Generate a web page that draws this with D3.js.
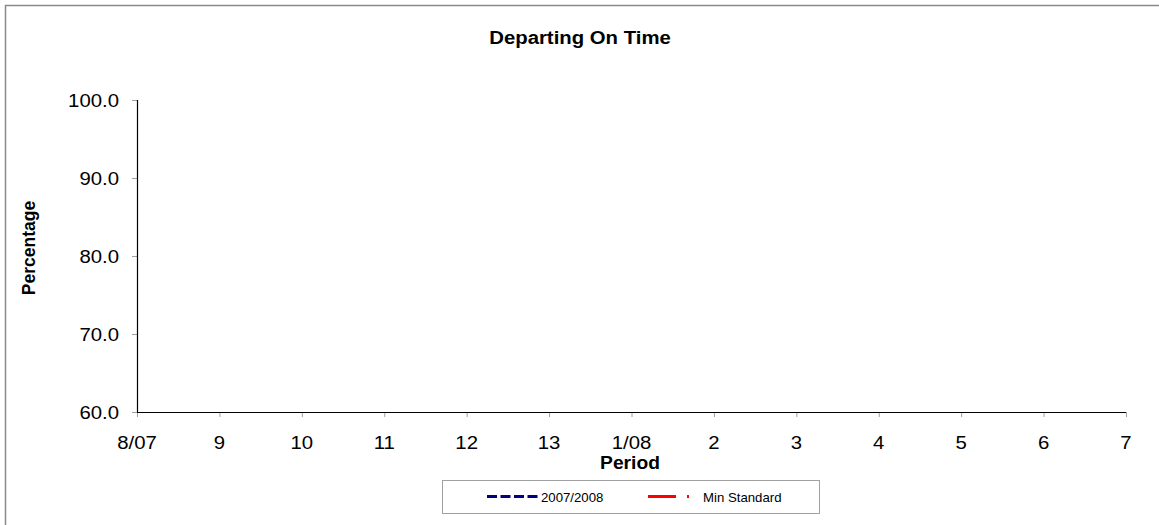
<!DOCTYPE html>
<html>
<head>
<meta charset="utf-8">
<script src="https://cdn.jsdelivr.net/npm/d3@7"></script>
<style>
  html, body { margin: 0; padding: 0; background: #fff; }
  svg { display: block; }
  text { font-family: Arial, "Liberation Sans", sans-serif; fill: #000; }
</style>
</head>
<body>
<svg id="chart" width="1159" height="525"></svg>
<script>
// Period labels along the x axis
const periods = ["8/07", "9", "10", "11", "12", "13", "1/08", "2", "3", "4", "5", "6", "7"];
// Departing-on-time percentages per period (no figures reported yet)
const season2007 = [null, null, null, null, null, null, null, null, null, null, null, null, null];
const minStandard = [null, null, null, null, null, null, null, null, null, null, null, null, null];
// Y axis ticks
const yTicks = [60, 70, 80, 90, 100];
const seriesNames = ["2007/2008", "Min Standard"];

const SX = 1.1; // horizontal glyph stretch
const svg = d3.select("#chart");

// outer frame
svg.append("rect")
  .attr("x", 5.5).attr("y", 5.5)
  .attr("width", 1300).attr("height", 700)
  .attr("fill", "none").attr("stroke", "#8a8a8a").attr("stroke-width", 1.5);

const plot = { left: 137, right: 1126, top: 100, bottom: 412 };

const x = d3.scalePoint().domain(periods).range([plot.left, plot.right]);
const y = d3.scaleLinear().domain([60, 100]).range([plot.bottom, plot.top]);

// stretched text helper
function label(g, txt, px, py, opts) {
  const t = g.append("text")
    .attr("transform", `translate(${px},${py}) scale(${opts.sx || SX},1)`)
    .attr("font-size", opts.size)
    .attr("text-anchor", opts.anchor || "middle")
    .text(txt);
  if (opts.bold) t.attr("font-weight", "bold");
  return t;
}

// title
label(svg, "Departing On Time", 580, 44, { size: 18.5, bold: true });

// y axis
const yAxis = svg.append("g").attr("transform", `translate(${plot.left},0)`)
  .call(d3.axisLeft(y).tickValues(yTicks).tickSize(5).tickFormat(""));
yAxis.select(".domain").remove();
yAxis.selectAll(".tick line").attr("stroke", "#a0a0a0");
yTicks.forEach(v => label(svg, d3.format(".1f")(v), 119, y(v) + 6.5, { size: 18.5, anchor: "end" }));
svg.append("line")
  .attr("x1", plot.left + 0.5).attr("x2", plot.left + 0.5)
  .attr("y1", plot.top).attr("y2", plot.bottom)
  .attr("stroke", "#000").attr("stroke-width", 1.2);

// x axis
const xAxis = svg.append("g").attr("transform", `translate(0,${plot.bottom})`)
  .call(d3.axisBottom(x).tickSize(5).tickFormat(""));
xAxis.select(".domain").remove();
xAxis.selectAll(".tick line").attr("stroke", "#a0a0a0");
periods.forEach(p => label(svg, p, x(p), 449, { size: 18.5 }));
svg.append("line")
  .attr("x1", plot.left).attr("x2", plot.right)
  .attr("y1", plot.bottom + 0.5).attr("y2", plot.bottom + 0.5)
  .attr("stroke", "#000").attr("stroke-width", 1.2);

// axis titles
label(svg, "Period", 630, 469, { size: 17.5, bold: true });
svg.append("text")
  .attr("transform", `translate(35,248) rotate(-90)`)
  .attr("font-size", 17.5).attr("font-weight", "bold")
  .attr("text-anchor", "middle")
  .text("Percentage");

// series lines
const line = d3.line()
  .defined(d => d != null)
  .x((d, i) => x(periods[i]))
  .y(d => y(d));
svg.append("path").datum(season2007)
  .attr("d", line).attr("fill", "none")
  .attr("stroke", "#000080").attr("stroke-width", 3).attr("stroke-dasharray", "10,3.5");
svg.append("path").datum(minStandard)
  .attr("d", line).attr("fill", "none")
  .attr("stroke", "#ff0000").attr("stroke-width", 3).attr("stroke-dasharray", "28,11,2,11");

// legend
const leg = svg.append("g");
leg.append("rect")
  .attr("x", 442.5).attr("y", 480.5).attr("width", 377).attr("height", 33)
  .attr("fill", "#fff").attr("stroke", "#a0a0a0").attr("stroke-width", 1);
leg.append("line")
  .attr("x1", 487).attr("x2", 538).attr("y1", 496.5).attr("y2", 496.5)
  .attr("stroke", "#000080").attr("stroke-width", 3.2).attr("stroke-dasharray", "10,3.5");
label(leg, seriesNames[0], 541, 501.5, { size: 12, anchor: "start" });
leg.append("line")
  .attr("x1", 648).attr("x2", 698).attr("y1", 496.5).attr("y2", 496.5)
  .attr("stroke", "#ff0000").attr("stroke-width", 3.2).attr("stroke-dasharray", "28,11,2,11");
label(leg, seriesNames[1], 703, 501.5, { size: 12, anchor: "start" });
</script>
</body>
</html>
